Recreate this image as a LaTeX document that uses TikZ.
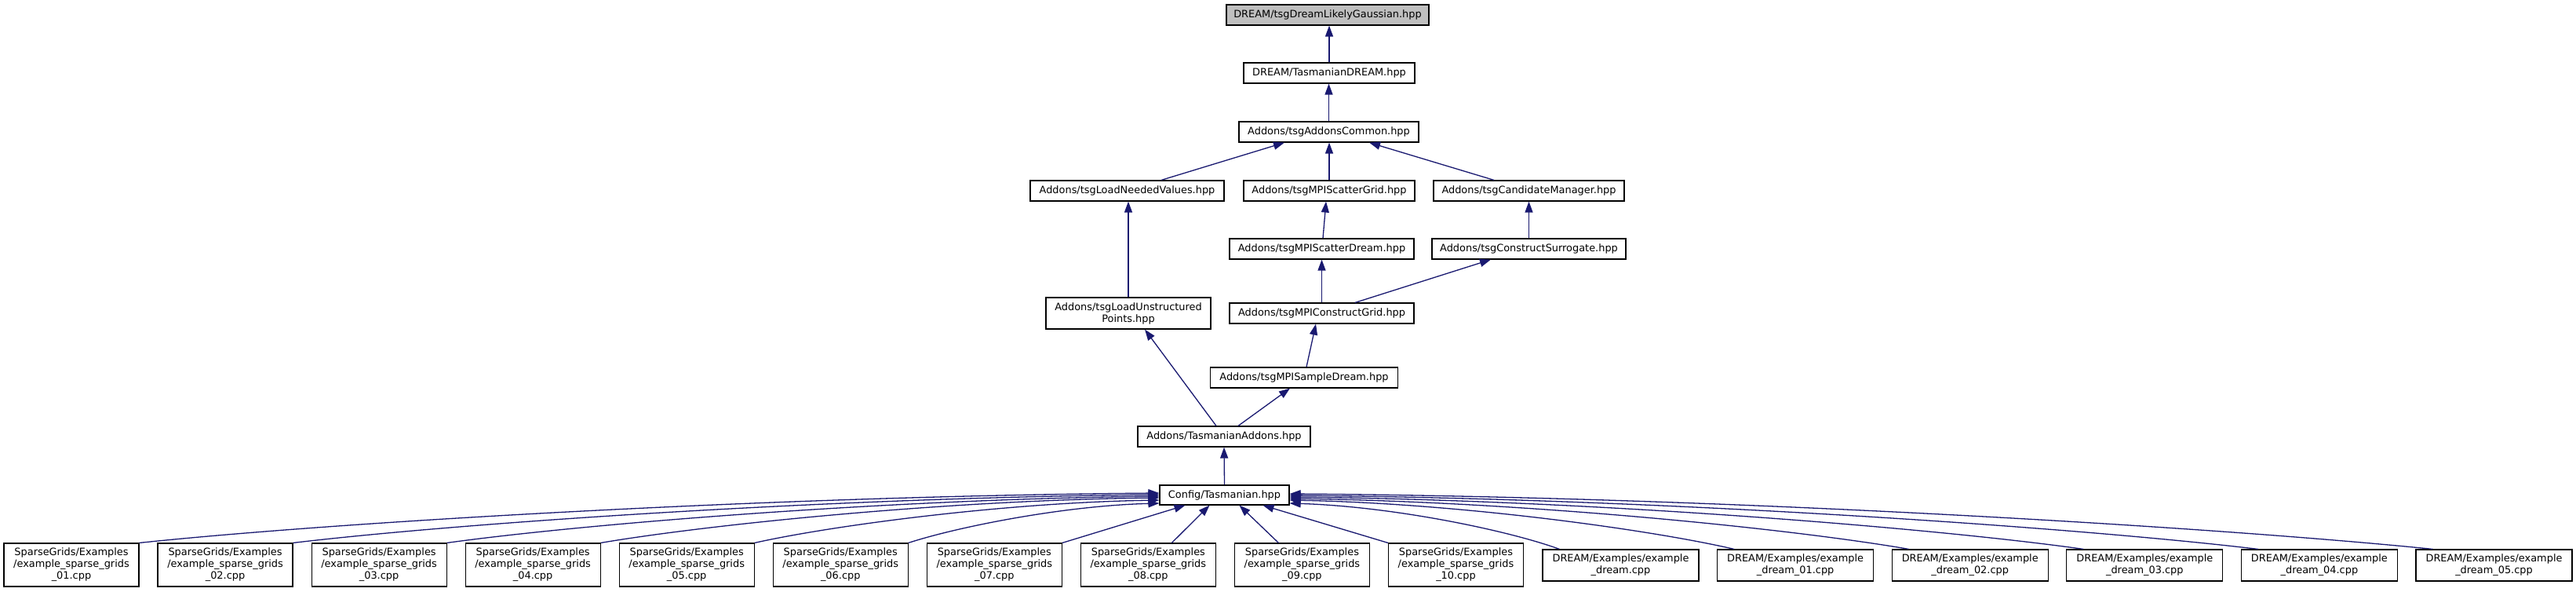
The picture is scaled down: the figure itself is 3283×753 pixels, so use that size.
\documentclass[tikz,border=0pt]{standalone}
\usepackage{fontspec}
\setmainfont{DejaVu Sans}
\usetikzlibrary{arrows.meta}
\definecolor{edgeblue}{RGB}{25,25,112}
\definecolor{topgray}{RGB}{191,191,191}
\begin{document}
\begin{tikzpicture}[x=1pt,y=-1pt,
  filebox/.style={draw=black, line width=1.2pt, inner sep=0pt, align=center,
    minimum height=26pt, font=\fontsize{12.9pt}{15pt}\selectfont},
  edge/.style={draw=edgeblue, line width=1.3pt, -{Triangle[length=14pt,width=10pt]}}]
\useasboundingbox (0,0) rectangle (3283,753);
% upper chain
\node[filebox, fill=topgray, minimum width=258pt] (top) at (1692,19) {DREAM/tsgDreamLikelyGaussian.hpp};
\node[filebox, minimum width=218pt] (dreamT) at (1694,93) {DREAM/TasmanianDREAM.hpp};
\node[filebox, minimum width=229pt] (common) at (1693.5,168) {Addons/tsgAddonsCommon.hpp};
\node[filebox, minimum width=247pt] (needed) at (1436.5,243) {Addons/tsgLoadNeededValues.hpp};
\node[filebox, minimum width=218pt] (scgrid) at (1694,243) {Addons/tsgMPIScatterGrid.hpp};
\node[filebox, minimum width=243pt] (cand) at (1948.5,243) {Addons/tsgCandidateManager.hpp};
\node[filebox, minimum width=235pt] (scdream) at (1684.5,317) {Addons/tsgMPIScatterDream.hpp};
\node[filebox, minimum width=247pt] (surr) at (1948.5,317) {Addons/tsgConstructSurrogate.hpp};
\node[filebox, minimum width=210pt, minimum height=40pt] (unstr) at (1438,399) {Addons/tsgLoadUnstructured\\Points.hpp};
\node[filebox, minimum width=235pt] (cgrid) at (1684.5,399) {Addons/tsgMPIConstructGrid.hpp};
\node[filebox, minimum width=239pt] (sample) at (1662,481) {Addons/tsgMPISampleDream.hpp};
\node[filebox, minimum width=220pt] (addons) at (1560,556) {Addons/TasmanianAddons.hpp};
\node[filebox, minimum width=165pt, minimum height=25pt] (cfg) at (1560.5,630.5) {Config/Tasmanian.hpp};
% bottom row: sparse grids examples
\foreach \i/\n in {1/01,2/02,3/03,4/04,5/05,6/06,7/07,8/08,9/09,10/10}{
  \node[filebox, minimum width=172pt, minimum height=55pt] (s\i) at ({91+(\i-1)*196.05},719.5)
    {SparseGrids/Examples\\/example\_sparse\_grids\\\_\n.cpp};
}
% bottom row: dream examples
\node[filebox, minimum width=199pt, minimum height=40pt] (d0) at (2065.5,720) {DREAM/Examples/example\\\_dream.cpp};
\foreach \i/\n in {1/01,2/02,3/03,4/04,5/05}{
  \node[filebox, minimum width=199pt, minimum height=40pt] (d\i) at ({2065.5+\i*222.6},720)
    {DREAM/Examples/example\\\_dream\_\n.cpp};
}
% upper edges
\draw[edge] (dreamT.north) -- (dreamT.north |- top.south);
\draw[edge] (common.north) -- (common.north |- dreamT.south);
\draw[edge] ([xshift=43.5pt]needed.north) -- ([xshift=-56.5pt]common.south);
\draw[edge] (scgrid.north) -- (scgrid.north |- common.south);
\draw[edge] ([xshift=-44.5pt]cand.north) -- ([xshift=51.5pt]common.south);
\draw[edge] (unstr.north) -- (unstr.north |- needed.south);
\draw[edge] ([xshift=1.5pt]scdream.north) -- ([xshift=-4pt]scgrid.south);
\draw[edge] (surr.north) -- (cand.south);
\draw[edge] (cgrid.north) -- (scdream.south);
\draw[edge] ([xshift=42.5pt]cgrid.north) -- ([xshift=-48.5pt]surr.south);
\draw[edge] ([xshift=3pt]sample.north) -- ([xshift=-7.5pt]cgrid.south);
\draw[edge] ([xshift=-10pt]addons.north) -- ([xshift=21pt]unstr.south);
\draw[edge] ([xshift=18pt]addons.north) -- ([xshift=-18pt]sample.south);
\draw[edge] (cfg.north) -- (addons.south);
% sparse grid example edges (left side)
\draw[edge] (s1.north east) .. controls +(247,-26) and +(-494,4) .. ([yshift=2.5pt]cfg.west);
\draw[edge] (s2.north east) .. controls +(210,-25) and +(-420,4) .. ([yshift=0.5pt]cfg.west);
\draw[edge] (s3.north east) .. controls +(173,-24) and +(-345,4) .. ([yshift=-1.5pt]cfg.west);
\draw[edge] (s4.north east) .. controls +(135,-23) and +(-271,3) .. ([yshift=-3.5pt]cfg.west);
\draw[edge] (s5.north east) .. controls +(98,-22) and +(-196,3) .. ([yshift=-6.5pt]cfg.west);
\draw[edge] (s6.north east) .. controls +(61,-20) and +(-122,3) .. ([yshift=-10.5pt]cfg.west);
\draw[edge] (s7.north east) -- ([xshift=-50pt]cfg.south);
\draw[edge] ([xshift=30pt]s8.north) -- ([xshift=-19pt]cfg.south);
\draw[edge] ([xshift=-30pt]s9.north) -- ([xshift=19pt]cfg.south);
\draw[edge] (s10.north west) -- ([xshift=49pt]cfg.south);
% dream example edges (right side)
\draw[edge] ([xshift=22pt]d0.north west) .. controls +(-66,-24) and +(131,4) .. ([yshift=-10.5pt]cfg.east);
\draw[edge] ([xshift=22pt]d1.north west) .. controls +(-108,-25) and +(215,4) .. ([yshift=-6.5pt]cfg.east);
\draw[edge] ([xshift=22pt]d2.north west) .. controls +(-150,-26) and +(300,4) .. ([yshift=-4.5pt]cfg.east);
\draw[edge] ([xshift=22pt]d3.north west) .. controls +(-192,-27) and +(385,4) .. ([yshift=-2.5pt]cfg.east);
\draw[edge] ([xshift=22pt]d4.north west) .. controls +(-235,-28) and +(470,4) .. ([yshift=-0.5pt]cfg.east);
\draw[edge] ([xshift=22pt]d5.north west) .. controls +(-277,-28) and +(554,4) .. ([yshift=1.5pt]cfg.east);
\end{tikzpicture}
\end{document}
